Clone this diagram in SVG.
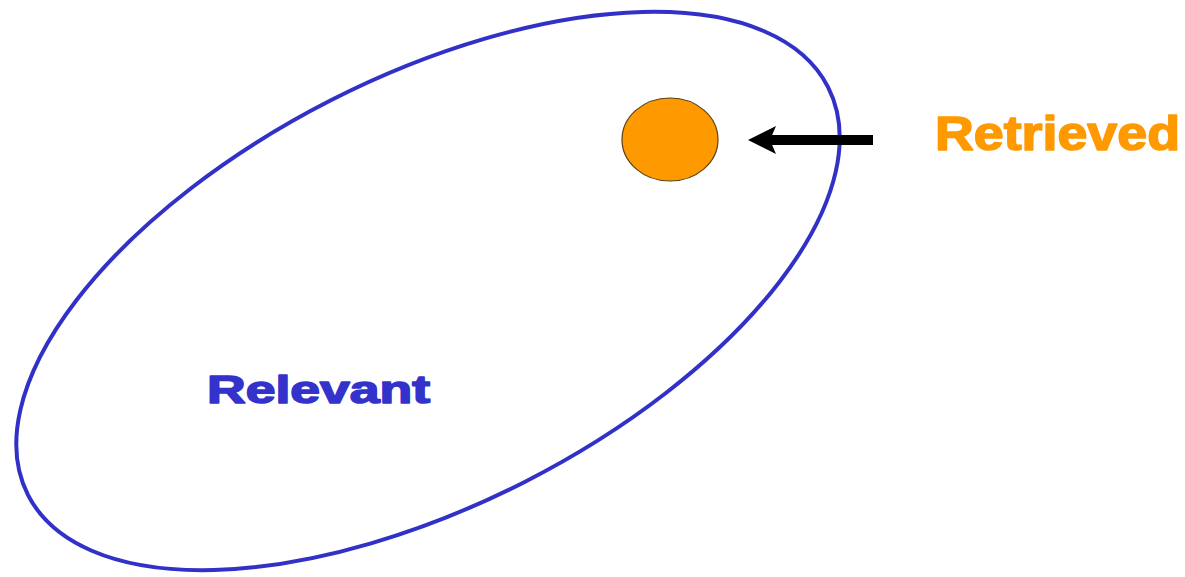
<svg xmlns="http://www.w3.org/2000/svg" width="1185" height="577" viewBox="0 0 1185 577">
<style>
.lbl{font-family:"Liberation Sans",Arial,sans-serif;font-weight:bold;stroke-width:1.6;stroke-linejoin:round;}
</style>
<rect width="1185" height="577" fill="#ffffff"/>
<g id="relevant">
<ellipse cx="428" cy="291" rx="449" ry="214" transform="rotate(-27 428 291)" fill="none" stroke="#3131C8" stroke-width="4"/>
<text class="lbl" x="207" y="403" font-size="39" fill="#3333CC" stroke="#3333CC" textLength="223" lengthAdjust="spacingAndGlyphs">Relevant</text>
</g>
<g id="retrieved-dot">
<ellipse cx="670" cy="139.5" rx="48" ry="41.5" fill="#FF9900" stroke="#5a4010" stroke-width="1.2"/>
</g>
<g id="retrieved-label">
<text class="lbl" x="935" y="150" font-size="48" fill="#FF9900" stroke="#FF9900" textLength="245" lengthAdjust="spacingAndGlyphs">Retrieved</text>
</g>
<g id="connectors">
<line x1="873" y1="140" x2="770" y2="140" stroke="#000" stroke-width="10"/>
<path d="M748 140 L776 126 L770 140 L776 154 Z" fill="#000"/>
</g>
</svg>
